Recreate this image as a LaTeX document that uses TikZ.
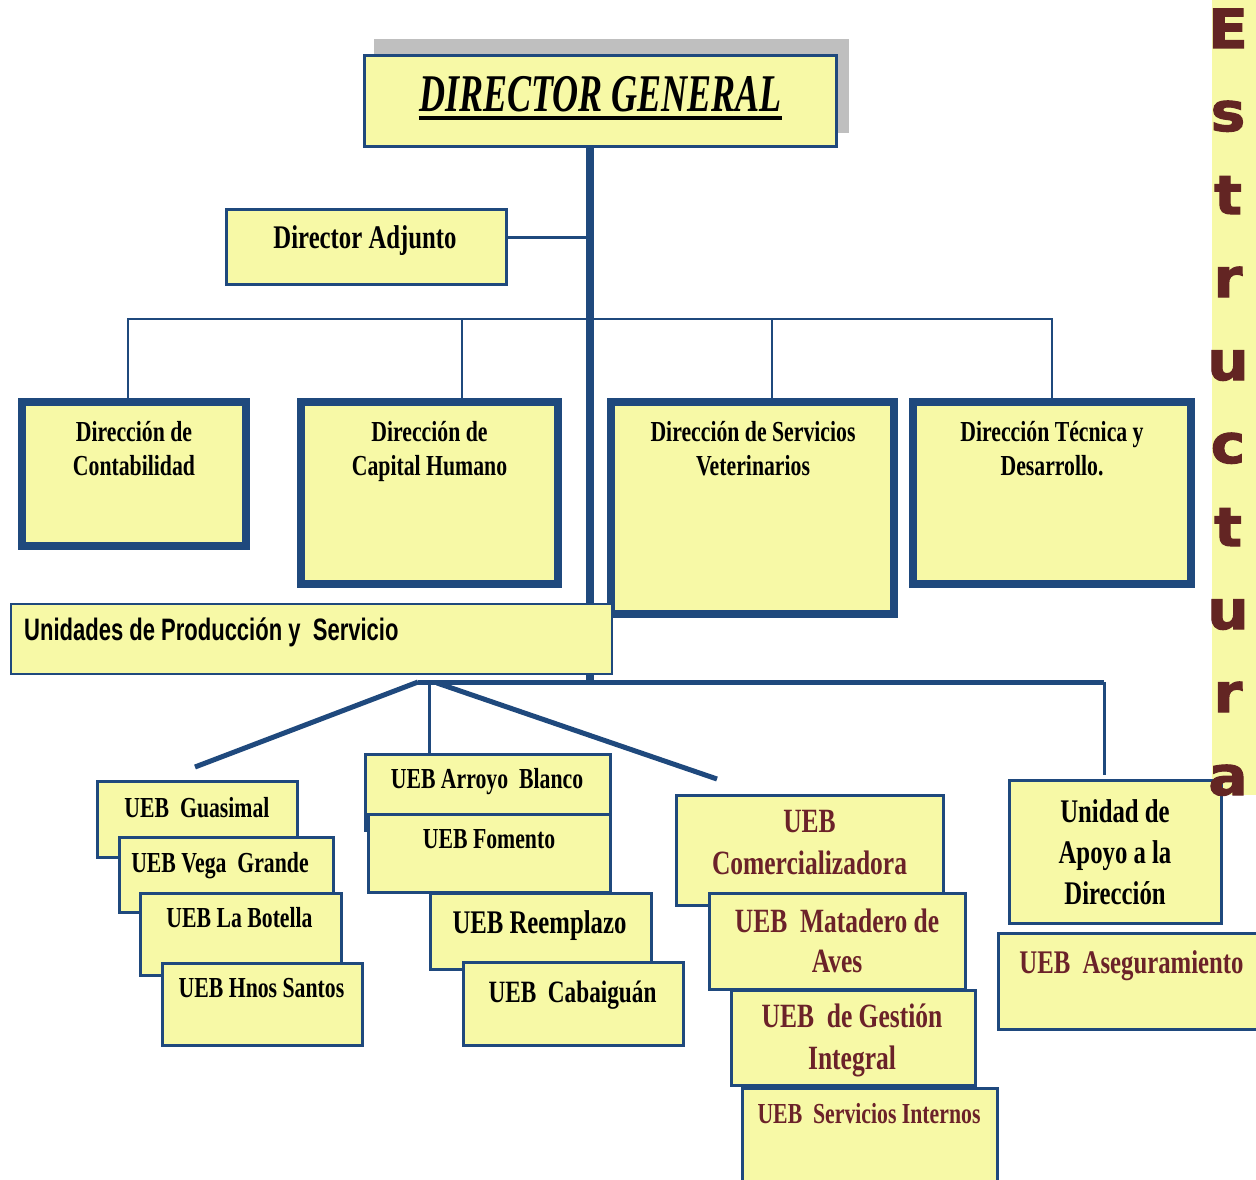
\documentclass[tikz,border=0pt]{standalone}
\usepackage{fontspec}
\setmainfont{Liberation Serif}[FakeStretch=0.75]
\newfontfamily\dgfont{Liberation Serif}[FakeStretch=0.68]
\newfontfamily\narrowsans{Liberation Sans}[FakeStretch=0.71]
\newfontfamily\blackfont{DejaVu Sans}[FakeStretch=1.08,FakeBold=2]
\usetikzlibrary{calc}
\pgfdeclarelayer{back}
\pgfdeclarelayer{lines}
\pgfsetlayers{back,lines,main}
\definecolor{boxyellow}{HTML}{F7F9A6}
\definecolor{orgblue}{HTML}{1F497D}
\definecolor{txtmaroon}{HTML}{6B2229}
\definecolor{lettermaroon}{HTML}{632523}
\definecolor{shadowgray}{HTML}{BFBFBF}
\newcommand\fsz[2]{\fontsize{#1}{#2}\selectfont}
\newcommand\orgbox[6]{\node[#2,anchor=north west,minimum width={(#5)-(#3)},minimum height={(#6)-(#4)}] (#1) at (#3,#4) {};}
\begin{document}
\begin{tikzpicture}[x=1pt,y=-1pt,
  thinbox/.style={draw=orgblue,fill=boxyellow,line width=3pt,inner sep=0pt,outer sep=0pt},
  slimbox/.style={draw=orgblue,fill=boxyellow,line width=2pt,inner sep=0pt,outer sep=0pt},
  thickbox/.style={draw=orgblue,fill=boxyellow,line width=8pt,inner sep=0pt,outer sep=0pt},
  trunkline/.style={draw=orgblue,line width=8pt},
  busline/.style={draw=orgblue,line width=2.5pt},
  midline/.style={draw=orgblue,line width=3pt},
  heavyline/.style={draw=orgblue,line width=5pt},
  lbl/.style={inner sep=0pt,align=center},
  letter/.style={inner sep=0pt,anchor=base,text=lettermaroon,font=\blackfont\bfseries\fsz{54}{54}}
]
\useasboundingbox (0,0) rectangle (1256,1180);
\begin{pgfonlayer}{back}
\fill[white] (0,0) rectangle (1256,1180);
\fill[boxyellow] (1212,0) rectangle (1256,795);
\fill[shadowgray] (374,39) rectangle (849,133);
\end{pgfonlayer}
% coordinates of the connector system
\coordinate (trunkbot) at (590,684);
\coordinate (busL) at (128,319);
\coordinate (busC) at (462,319);
\coordinate (busV) at (772,319);
\coordinate (busR) at (1052,319);
\coordinate (lowL) at (418,682);
\coordinate (lowM) at (429,682);
\coordinate (lowD) at (437,683);
\coordinate (lowR) at (1104,682);
\coordinate (diagL) at (195,767);
\coordinate (diagR) at (717,779);
\coordinate (apoyoTop) at (1104,775);
% boxes
\orgbox{dg}{thinbox}{364}{56}{836}{147}
\orgbox{da}{thinbox}{226}{209}{506}{284}
\orgbox{cont}{thickbox}{22}{402}{246}{546}
\orgbox{cap}{thickbox}{301}{402}{558}{584}
\orgbox{vet}{thickbox}{611}{402}{894}{614}
\orgbox{tec}{thickbox}{913}{402}{1191}{584}
\orgbox{up}{slimbox}{11}{604}{612}{674}
% UEB boxes, left group
\orgbox{gua}{thinbox}{97}{781}{297}{857}
\orgbox{vega}{thinbox}{119}{837}{333}{912}
\orgbox{bot}{thinbox}{140}{893}{341}{975}
\orgbox{hnos}{thinbox}{162}{963}{362}{1045}
% middle group
\orgbox{arr}{thinbox}{365}{754}{610}{830}
\orgbox{fom}{thinbox}{368}{814}{610}{892}
\orgbox{ree}{thinbox}{430}{893}{651}{969}
\orgbox{cab}{thinbox}{463}{962}{683}{1045}
% right-middle group
\orgbox{com}{thinbox}{676}{795}{943}{905}
\orgbox{mat}{thinbox}{709}{893}{965}{989}
\orgbox{ges}{thinbox}{731}{990}{975}{1085}
\orgbox{sin}{thinbox}{742}{1088}{997}{1200}
% right group
\orgbox{apo}{thinbox}{1009}{780}{1221}{923}
\orgbox{ase}{thinbox}{998}{933}{1270}{1029}
% connectors, behind the boxes
\begin{pgfonlayer}{lines}
\draw[trunkline] (dg.south -| trunkbot) -- (trunkbot);
\draw[midline] ([yshift=9pt]da.east) -- ([yshift=9pt]da.east -| trunkbot);
\draw[busline] (cont.north -| busL) -- (busL) -- (busR) -- (tec.north);
\draw[busline] (busC) -- (cap.north -| busC);
\draw[busline] (busV) -- (vet.north -| busV);
\draw[heavyline] (lowL) -- (lowR);
\draw[heavyline] (lowL) -- (diagL);
\draw[heavyline] (lowD) -- (diagR);
\draw[midline] (lowR) -- (apoyoTop);
\draw[midline] (lowM) -- (arr.north -| lowM);
\end{pgfonlayer}
\draw[trunkline] (up.south -| trunkbot) -- (trunkbot);
% labels
\node[lbl,anchor=base,font=\dgfont\bfseries\itshape\fsz{53}{60}] (tdg) at (600.5,112) {DIRECTOR GENERAL};
\draw[line width=4pt] ([yshift=-6pt]tdg.base west) -- ([yshift=-6pt]tdg.base east);
\node[lbl,anchor=base,font=\bfseries\fsz{33}{38}] (tda) at (365,248) {Director Adjunto};
\node[lbl,anchor=north,font=\bfseries\fsz{29}{34}] (tcont) at (134,421.5) {Dirección de\\Contabilidad};
\node[lbl,anchor=north,font=\bfseries\fsz{29}{34}] (tcap) at (429.5,421.5) {Dirección de\\Capital Humano};
\node[lbl,anchor=north,font=\bfseries\fsz{29}{34}] (tvet) at (753,421.5) {Dirección de Servicios\\Veterinarios};
\node[lbl,anchor=north,font=\bfseries\fsz{29}{34}] (ttec) at (1052,421.5) {Dirección Técnica y\\Desarrollo.};
\node[lbl,anchor=base west,font=\narrowsans\bfseries\fsz{31}{36}] (tup) at (24,640) {Unidades de Producción y\ \ Servicio};
\node[lbl,anchor=base,font=\bfseries\fsz{29}{34}] (tgua) at (197,817) {UEB\ \ Guasimal};
\node[lbl,anchor=base,font=\bfseries\fsz{29}{34}] (tvega) at (220,872) {UEB Vega\ \ Grande};
\node[lbl,anchor=base,font=\bfseries\fsz{29}{34}] (tbot) at (239.5,927) {UEB La Botella};
\node[lbl,anchor=base,font=\bfseries\fsz{29}{34}] (thnos) at (261.5,997) {UEB Hnos Santos};
\node[lbl,anchor=base,font=\bfseries\fsz{29}{34}] (tarr) at (487,788) {UEB Arroyo\ \ Blanco};
\node[lbl,anchor=base,font=\bfseries\fsz{29}{34}] (tfom) at (489,848) {UEB Fomento};
\node[lbl,anchor=base,font=\bfseries\fsz{33}{38}] (tree) at (539.5,933) {UEB Reemplazo};
\node[lbl,anchor=base,font=\bfseries\fsz{31}{36}] (tcab) at (572.5,1002) {UEB\ \ Cabaiguán};
\node[lbl,anchor=north,text=txtmaroon,font=\bfseries\fsz{34}{42}] (tcom) at (809.5,810.5) {UEB\\Comercializadora};
\node[lbl,anchor=north,text=txtmaroon,font=\bfseries\fsz{34}{40}] (tmat) at (837,909) {UEB\ \ Matadero de\\Aves};
\node[lbl,anchor=north,text=txtmaroon,font=\bfseries\fsz{34}{42}] (tges) at (852,1004) {UEB\ \ de Gestión\\Integral};
\node[lbl,anchor=base,text=txtmaroon,font=\bfseries\fsz{29}{34}] (tsin) at (869,1123) {UEB\ \ Servicios Internos};
\node[lbl,anchor=north,font=\bfseries\fsz{33}{41}] (tapo) at (1115,799.5) {Unidad de\\Apoyo a la\\Dirección};
\node[lbl,anchor=base,text=txtmaroon,font=\bfseries\fsz{33}{38}] (tase) at (1131.5,973) {UEB\ \ Aseguramiento};
% vertical word
\foreach \ch/\yy/\nm in {E/48/1,s/131/2,t/214/3,r/297/4,u/380/5,c/463/6,t/546/7,u/629/8,r/712/9,a/795/10}
  \node[letter] (let\nm) at (1228,\yy) {\ch};
\end{tikzpicture}
\end{document}
